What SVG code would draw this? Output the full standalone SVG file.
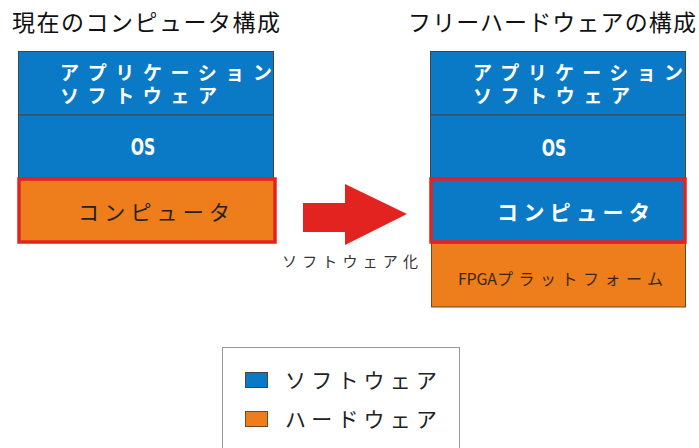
<svg xmlns="http://www.w3.org/2000/svg" width="699" height="448" viewBox="0 0 699 448">
<style>
.jp{font-family:"Noto Sans CJK JP","Noto Sans",sans-serif}
.title{font-size:23px;fill:#111}
.app{font-size:19px;font-weight:bold;fill:#fff}
.os{font-family:"DejaVu Sans",sans-serif;font-size:23px;font-weight:bold;fill:#fff}
.sw{fill:#0a7ac6;stroke:#444;stroke-width:1}
.hw{fill:#ee7d1b;stroke:#6b4a2a;stroke-width:1}
.red{fill:none;stroke:#e3231f;stroke-width:3.5}
.comp{font-size:21px}
.leg{font-size:21px;fill:#222}
</style>
<g id="title-left"><text class="jp title" x="12" y="31" textLength="268" lengthAdjust="spacing">現在のコンピュータ構成</text></g>
<g id="title-right"><text class="jp title" x="408" y="31" textLength="288" lengthAdjust="spacing">フリーハードウェアの構成</text></g>

<g id="left-app"><rect class="sw" x="18.5" y="51.5" width="255" height="63.5"/>
<text class="jp app"><tspan x="60" y="80" textLength="212" lengthAdjust="spacing">アプリケーション</tspan><tspan x="60" y="103" textLength="157" lengthAdjust="spacing">ソフトウェア</tspan></text></g>
<g id="left-os"><rect class="sw" x="18.5" y="115" width="255" height="63"/>
<text class="os" transform="translate(143 155) scale(0.68 1)" text-anchor="middle">OS</text></g>
<g id="left-computer"><rect class="hw" x="19" y="179" width="256" height="63" stroke="none"/>
<rect class="red" x="19" y="179" width="256" height="63"/>
<text class="jp comp" x="78" y="220" fill="#222" textLength="152" lengthAdjust="spacing">コンピュータ</text></g>

<g id="right-app"><rect class="sw" x="430.5" y="51.5" width="255" height="63.5"/>
<text class="jp app"><tspan x="473" y="80" textLength="210" lengthAdjust="spacing">アプリケーション</tspan><tspan x="473" y="103" textLength="157" lengthAdjust="spacing">ソフトウェア</tspan></text></g>
<g id="right-os"><rect class="sw" x="430.5" y="115" width="255" height="63"/>
<text class="os" transform="translate(554 156) scale(0.68 1)" text-anchor="middle">OS</text></g>
<g id="right-fpga"><rect class="hw" x="431.5" y="243" width="254" height="64"/>
<text class="jp" font-size="16" fill="#3a2810"><tspan x="458" y="285" textLength="39" lengthAdjust="spacing">FPGA</tspan><tspan x="497" y="285" textLength="166" lengthAdjust="spacing">プラットフォーム</tspan></text></g>
<g id="right-computer"><rect class="sw" x="431" y="179" width="254" height="63" stroke="none"/>
<rect class="red" x="431" y="179" width="254" height="63"/>
<text class="jp comp" x="497" y="220" fill="#fff" font-weight="bold" textLength="153" lengthAdjust="spacing">コンピュータ</text></g>

<g id="connectors">
<polygon points="303,203 345,203 345,184 407,214 345,245 345,232 303,232" fill="#e3231f"/>
<text class="jp" x="282" y="267" font-size="15" fill="#333" textLength="136" lengthAdjust="spacing">ソフトウェア化</text>
</g>

<g id="legend">
<rect x="222.5" y="347.5" width="237" height="110" fill="#fff" stroke="#999" stroke-width="1"/>
<rect class="sw" x="245.5" y="372.5" width="22" height="15"/>
<text class="jp leg" x="285" y="388" textLength="152" lengthAdjust="spacing">ソフトウェア</text>
<rect class="hw" x="245.5" y="411.5" width="22" height="15"/>
<text class="jp leg" x="285" y="427" textLength="152" lengthAdjust="spacing">ハードウェア</text>
</g>
</svg>
